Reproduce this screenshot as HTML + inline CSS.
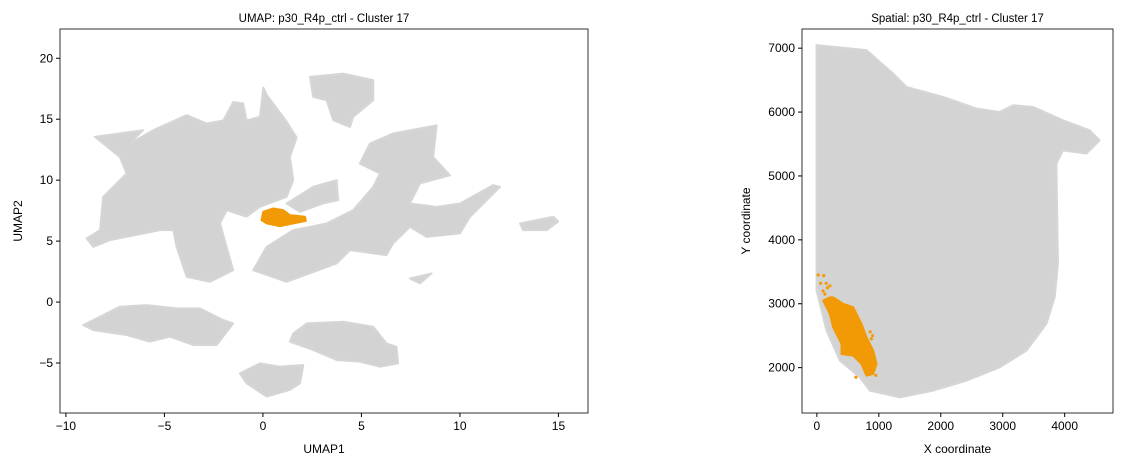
<!DOCTYPE html>
<html><head><meta charset="utf-8"><style>
body{margin:0;background:#fff;width:1123px;height:467px;overflow:hidden}
svg{font-family:"Liberation Sans","DejaVu Sans",sans-serif}
</style></head><body>
<svg id="chart" width="1123" height="467"></svg>
<script>
// ---- data (data units) ----
const umapXTicks=[-10,-5,0,5,10,15];
const umapYTicks=[-5,0,5,10,15,20];
const spXTicks=[0,1000,2000,3000,4000];
const spYTicks=[2000,3000,4000,5000,6000,7000];
const umapBlobs=[
 [[-8.53,13.55],[-6.09,14.1],[-6.75,13.0],[-5.57,14.1],[-3.87,15.33],[-2.86,14.65],[-2.01,14.9],[-1.51,16.4],[-1.0,16.3],[-0.83,14.9],[-0.15,15.2],[0.02,17.6],[0.19,17.0],[1.2,14.8],[1.71,13.5],[1.37,11.9],[1.54,10.0],[1.2,8.63],[-0.15,7.81],[-0.83,7.0],[-1.84,7.54],[-2.18,6.45],[-1.51,2.62],[-2.69,1.66],[-3.87,2.07],[-4.38,4.53],[-4.55,5.9],[-5.23,5.9],[-7.77,5.08],[-8.61,4.53],[-8.95,5.22],[-8.27,5.9],[-8.11,8.63],[-6.92,10.55],[-7.26,11.9]],
 [[-0.49,2.62],[0.19,4.53],[1.54,5.9],[3.23,6.45],[4.58,7.54],[5.6,9.45],[5.94,10.55],[4.92,11.36],[5.43,13.0],[6.61,13.83],[8.82,14.5],[8.64,11.9],[9.49,10.4],[7.97,9.73],[7.46,8.09],[8.82,7.81],[10.0,8.09],[11.69,9.59],[12.03,9.45],[10.51,7.0],[10.0,5.63],[8.31,5.35],[7.46,6.17],[6.61,4.81],[6.27,3.85],[4.42,4.26],[3.74,3.17],[1.2,1.66]],
 [[1.2,8.09],[2.55,9.45],[3.74,10.0],[3.82,8.36],[3.06,8.09],[1.88,7.4]],
 [[2.39,18.47],[4.08,18.74],[5.6,18.2],[5.6,16.56],[4.58,15.19],[4.42,14.37],[3.57,14.92],[3.23,16.56],[2.55,16.83]],
 [[13.05,6.45],[14.74,7.0],[14.99,6.6],[14.4,5.9],[13.21,5.9]],
 [[7.46,1.94],[8.56,2.35],[7.97,1.53]],
 [[-9.12,-1.89],[-7.26,-0.38],[-5.9,-0.25],[-4.38,-0.52],[-3.2,-0.52],[-2.01,-1.48],[-1.51,-1.75],[-2.35,-3.52],[-3.54,-3.52],[-4.72,-2.84],[-5.74,-3.25],[-6.92,-2.7],[-8.61,-2.3]],
 [[1.54,-2.57],[2.22,-1.75],[4.08,-1.61],[5.6,-2.02],[6.27,-3.39],[6.78,-3.66],[6.86,-5.03],[5.94,-5.3],[4.92,-4.89],[3.74,-4.75],[2.55,-3.93],[1.37,-3.25]],
 [[-1.17,-5.85],[-0.15,-5.03],[0.86,-5.3],[2.05,-5.16],[1.88,-6.66],[1.37,-7.21],[0.19,-7.75],[-0.83,-6.66]]
];
const umapCoreX=[0.02,0.52,1.03,1.37,2.13,2.18,1.54,0.86,0.19,-0.07];
const umapCoreY=[7.4,7.68,7.54,7.13,7.0,6.66,6.45,6.23,6.45,6.72];
const umapHiX=[0.1,2.1];
const umapHiY=[6.9,6.8];
const tissue=[[-5,7047],[801,6969],[1231,6603],[1447,6393],[2038,6237],[2576,6055],[2952,6002],[3167,6107],[3489,6080],[3973,5871],[4403,5715],[4565,5558],[4350,5350],[3973,5401],[3866,5193],[3892,3625],[3839,3102],[3705,2685],[3382,2266],[2952,2005],[2414,1796],[1876,1640],[1339,1535],[855,1640],[694,1848],[371,2110],[156,2580],[-5,3207]];
const spCoreX=[102,210,263,424,586,720,801,909,963,909,801,720,586,398,398,263,210];
const spCoreY=[3050,3100,3100,2998,2945,2685,2475,2266,2058,1901,1875,2058,2188,2214,2371,2632,2841];
const spHiX=[21,110,60,150,210,100,130,170,280,330,860,880,630,950,900];
const spHiY=[3450,3440,3320,3320,3280,3200,3150,3250,2960,2960,2560,2450,1850,1880,2500];

const NS='http://www.w3.org/2000/svg';const svg=document.getElementById('chart');
function mk(t,a,p){const e=document.createElementNS(NS,t);for(const k in a)e.setAttribute(k,a[k]);(p||svg).appendChild(e);return e;}
function drawPanel(c){
 const g=mk('g',{});
 
 
 const sx=v=>c.x0+(v-c.xmin)/(c.xmax-c.xmin)*(c.x1-c.x0);
 const sy=v=>c.y1-(v-c.ymin)/(c.ymax-c.ymin)*(c.y1-c.y0);
 c.gray.forEach((poly,i)=>{const p=mk('polygon',{points:poly.map(q=>sx(q[0])+','+sy(q[1])).join(' '),fill:'#d3d3d3',stroke:'#d6d6d6','stroke-width':2,'stroke-linejoin':'round'},g);
  
  });
 const p=mk('polygon',{points:c.cx.map((v,i)=>sx(v)+','+sy(c.cy[i])).join(' '),fill:'#f29a05',stroke:'#f29a05','stroke-width':2,'stroke-linejoin':'round'},g);
 
 
 c.hx.forEach((v,i)=>{const e=mk('circle',{cx:sx(v),cy:sy(c.hy[i]),r:c.r,fill:'#f29a05'},g);
  
  });
 const f=mk('rect',{x:c.x0,y:c.y0,width:c.x1-c.x0,height:c.y1-c.y0,fill:'none',stroke:'#000','stroke-width':0.8},g);
 
 
 c.xt.forEach(v=>{const x=sx(v);mk('line',{x1:x,x2:x,y1:c.y1,y2:c.y1+4,stroke:'#000'},g);
  const t=mk('text',{x:x,y:c.y1+17,'text-anchor':'middle','font-size':12},g);t.textContent=v<0?'\u2212'+(-v):v;
  
  });
 c.yt.forEach(v=>{const y=sy(v);mk('line',{x1:c.x0-4,x2:c.x0,y1:y,y2:y,stroke:'#000'},g);
  const t=mk('text',{x:c.x0-7,y:y+4,'text-anchor':'end','font-size':12},g);t.textContent=v<0?'\u2212'+(-v):v;
  
  });
 const tt=mk('text',{x:(c.x0+c.x1)/2,y:c.y0-7,'text-anchor':'middle','font-size':11.5},g);tt.textContent=c.title;
 
 
 const xl=mk('text',{x:(c.x0+c.x1)/2,y:c.y1+40,'text-anchor':'middle','font-size':12},g);xl.textContent=c.xl;
 
 
 const yx=c.x0-c.ylo,yy=(c.y0+c.y1)/2;
 const yl=mk('text',{x:yx,y:yy,'text-anchor':'middle','font-size':12,transform:`rotate(-90 ${yx} ${yy})`},g);yl.textContent=c.yl;
 
 
}
drawPanel({name:'umap-panel',x0:60,x1:588,y0:29,y1:413,xmin:-10.3,xmax:16.5,ymin:-9.1,ymax:22.4,
 gray:umapBlobs,cx:umapCoreX,cy:umapCoreY,hx:umapHiX,hy:umapHiY,r:2,xt:umapXTicks,yt:umapYTicks,
 title:'UMAP: p30_R4p_ctrl - Cluster 17',xl:'UMAP1',yl:'UMAP2',ylo:38});
drawPanel({name:'spatial-panel',x0:802,x1:1113,y0:29,y1:413,xmin:-240,xmax:4780,ymin:1290,ymax:7300,
 gray:[tissue],cx:spCoreX,cy:spCoreY,hx:spHiX,hy:spHiY,r:1.6,xt:spXTicks,yt:spYTicks,
 title:'Spatial: p30_R4p_ctrl - Cluster 17',xl:'X coordinate',yl:'Y coordinate',ylo:52});
</script>
</body></html>
